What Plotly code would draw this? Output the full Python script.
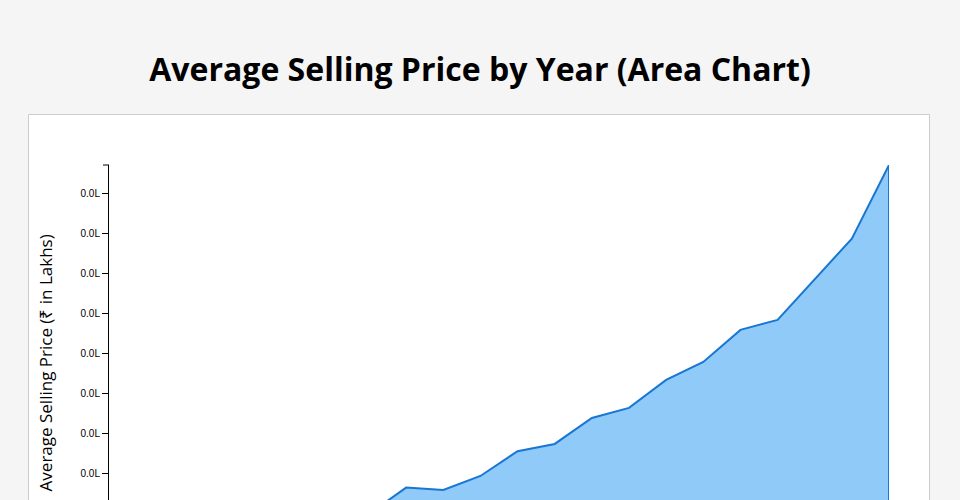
import plotly.graph_objects as go

# data (avg selling price, lakhs)
years = list(range(2000, 2022))
avg_price = [0.35, 0.40, 0.50, 0.55, 0.75, 0.70, 0.85, 1.00, 1.66, 1.60,
             1.95, 2.57, 2.75, 3.40, 3.65, 4.35, 4.80, 5.60, 5.85, 6.86,
             7.88, 9.72]
y_tick_vals = [0, 1, 2, 3, 4, 5, 6, 7, 8, 9]
y_tick_text = ["0.0L"] * len(y_tick_vals)

FONT = "Open Sans, sans-serif"
W, H = 960, 620
L, R, T, B = 109, 71, 165, 66
plot_w = W - L - R
plot_h = H - T - B

# closed area path (like a stroked d3 area)
xs = years + [years[-1], years[0]]
ys = avg_price + [0, 0]

fig = go.Figure()
fig.add_trace(go.Scatter(
    x=xs, y=ys, mode="lines", fill="toself",
    fillcolor="#90caf9",
    line=dict(color="#1976d2", width=2),
    hoverinfo="skip", showlegend=False,
))

fig.update_layout(
    width=W, height=H,
    margin=dict(l=L, r=R, t=T, b=B, pad=0),
    paper_bgcolor="#f5f5f5",
    plot_bgcolor="rgba(0,0,0,0)",
    font=dict(family=FONT, color="#000"),
    title=dict(
        text="<b>Average Selling Price by Year (Area Chart)</b>",
        font=dict(family=FONT, size=32, color="#000"),
        x=0.5, xanchor="center",
        yref="container", y=1 - 70 / H, yanchor="middle",
    ),
    showlegend=False,
)

fig.update_xaxes(
    range=[years[0], years[-1]],
    showgrid=False, zeroline=False,
    showline=True, linecolor="#000", linewidth=1,
    ticks="outside", ticklen=6, tickcolor="#000",
    tickfont=dict(family="Liberation Sans, Arial, sans-serif", size=10, color="#000"),
    dtick=1,
)
fig.update_yaxes(
    range=[0, max(avg_price)],
    showgrid=False, zeroline=False,
    showline=True, linecolor="#000", linewidth=1,
    ticks="outside", ticklen=6, tickcolor="#000", tickwidth=1,
    tickvals=y_tick_vals, ticktext=y_tick_text,
    tickfont=dict(family="Liberation Sans, Arial, sans-serif", size=10, color="#000"),
    ticklabelstandoff=0,
)

# white card behind the chart
fig.add_shape(
    type="rect", xref="paper", yref="paper", layer="below",
    x0=(28.5 - L) / plot_w, x1=(929.5 - L) / plot_w,
    y0=-(H - T - plot_h + 40) / plot_h, y1=(plot_h + T - 114.5) / plot_h,
    fillcolor="#ffffff", line=dict(color="#cccccc", width=1),
)
# outer tick at the top of the y domain
fig.add_shape(
    type="line", xref="paper", yref="paper",
    x0=-6 / plot_w, x1=0, y0=1, y1=1,
    line=dict(color="#000", width=1),
)

fig.add_annotation(
    text="Average Selling Price (₹ in Lakhs)",
    textangle=-90, xref="paper", yref="paper",
    x=(45 - L) / plot_w, y=0.49, xanchor="center", yanchor="middle",
    showarrow=False, font=dict(family=FONT, size=17, color="#000"),
)
fig.add_annotation(
    text="Year", xref="paper", yref="paper",
    x=0.5, y=-40 / plot_h, xanchor="center", yanchor="top",
    showarrow=False, font=dict(family=FONT, size=17, color="#000"),
)

fig.write_html(
    "out.html",
    config={"displayModeBar": False},
    post_script="document.body.style.margin='0';document.body.style.background='#f5f5f5';document.body.style.overflow='hidden';",
)
